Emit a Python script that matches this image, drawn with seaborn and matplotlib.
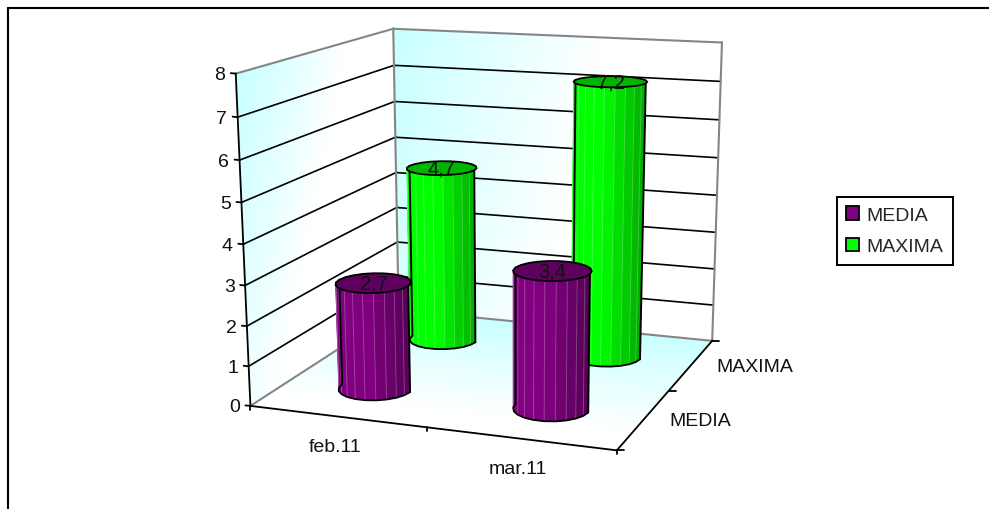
import numpy as np
import pandas as pd
import matplotlib
matplotlib.use("Agg")
import matplotlib.pyplot as plt
from matplotlib.colors import LinearSegmentedColormap, to_rgb
from matplotlib.patches import Patch
import seaborn as sns

# Chart values
months = ["feb.11", "mar.11"]
series_names = ["MEDIA", "MAXIMA"]
media = [2.7, 3.4]
maxima = [4.7, 7.2]
z_ticks = [0, 1, 2, 3, 4, 5, 6, 7, 8]

sns.set_theme(style="white", rc={"font.family": ["Liberation Sans", "DejaVu Sans"]})
palette = sns.color_palette(["#800080", "#00FF00"])
top_colors = ["#5E005E", "#00B400"]

fig, ax = plt.subplots(figsize=(9.89, 5.10), dpi=100)
fig.subplots_adjust(0, 0, 1, 1)

# Perspective camera of the 3D box: (category, series, value) -> canvas position
box_world = np.array([[0, 0, 0], [2, 0, 0], [0, 2, 0], [2, 2, 0],
                      [0, 0, 8], [0, 2, 8], [2, 2, 8]], float)
box_canvas = np.array([[250, 405], [617, 453], [399, 313], [712, 340],
                       [236, 75], [393, 29], [722, 44]], float)
rows = []
for (X, Y, Z), (u, v) in zip(box_world, box_canvas):
    rows.append([X, Y, Z, 1, 0, 0, 0, 0, -u * X, -u * Y, -u * Z, -u])
    rows.append([0, 0, 0, 0, X, Y, Z, 1, -v * X, -v * Y, -v * Z, -v])
camera = np.linalg.svd(np.array(rows))[2][-1].reshape(3, 4)


def project(x, y, z):
    x, y, z = np.broadcast_arrays(np.asarray(x, float), np.asarray(y, float), np.asarray(z, float))
    w = camera @ np.stack([x.ravel(), y.ravel(), z.ravel(), np.ones(x.size)])
    return (w[0] / w[2]).reshape(x.shape), (w[1] / w[2]).reshape(x.shape)


pale = LinearSegmentedColormap.from_list("pale", ["#C8FFFF", "#FFFFFF"])


def surface(x, y, z, shade):
    px, py = project(x, y, z)
    ax.pcolormesh(px, py, np.clip(shade, 0, 1), cmap=pale, vmin=0, vmax=1,
                  shading="gouraud", zorder=1)


a, b = np.meshgrid(np.linspace(0, 1, 30), np.linspace(0, 1, 30))
surface(a * 2, b * 2, 0 * a, (1 - b) * 1.15)                     # floor
surface(0 * a, a * 2, b * 8, a * 1.5 + (1 - b) * 0.75)           # side wall
surface(a * 2, 2 + 0 * a, b * 8, a * 1.5 + (1 - b) * 0.3)        # back wall

# Gridlines on both walls, one polyline per axis value
grid_rows = []
for level in z_ticks[1:-1]:
    for cx, cy in [(0, 0), (0, 2), (2, 2)]:
        px, py = project(cx, cy, level)
        grid_rows.append({"level": level, "px": float(px), "py": float(py)})
sns.lineplot(data=pd.DataFrame(grid_rows), x="px", y="py", units="level", estimator=None,
             sort=False, color="black", linewidth=1.2, legend=False, ax=ax, zorder=2)


def seg(p, q, color="black", lw=1.3, z=3):
    px, py = project(*np.array([p, q]).T)
    ax.plot(px, py, color=color, lw=lw, zorder=z, solid_capstyle="projecting")


# Grey edges of the box
for p, q in [((0, 0, 8), (0, 2, 8)), ((0, 2, 8), (2, 2, 8)), ((0, 2, 0), (0, 2, 8)),
             ((2, 2, 0), (2, 2, 8)), ((0, 0, 0), (0, 2, 0)), ((0, 2, 0), (2, 2, 0))]:
    seg(p, q, color="#858585", lw=1.5)

# Axis lines
seg((0, 0, 0), (0, 0, 8))
seg((0, 0, 0), (2, 0, 0))
seg((2, 0, 0), (2, 2, 0))

# Value axis ticks and labels
for level in z_ticks:
    px, py = project(0, 0, level)
    ax.plot([px - 5, px], [py - 0.5, py], color="black", lw=1.3, zorder=3)
    ax.text(px - 10.5, py + 1, str(level), ha="right", va="center", fontsize=14, color="#111111")

# Category axis ticks and labels
for pos in [0, 1, 2]:
    px, py = project(pos, 0, 0)
    ax.plot([px, px], [py, py + 4], color="black", lw=1.3, zorder=3)
for i, name in enumerate(months):
    px, py = project(i + 0.5, 0, 0)
    ax.text(px - 2, py + 30, name, ha="center", va="center", fontsize=14, color="#111111")

# Series axis ticks and labels
for pos in [0, 1, 2]:
    px, py = project(2, pos, 0)
    ax.plot([px, px + 7], [py, py], color="black", lw=1.3, zorder=3)
for i, name in enumerate(series_names):
    px, py = project(2, i + 0.5, 0)
    ax.text(px + 25, py + 2, name, ha="left", va="center", fontsize=14, color="#111111")


def shaded(color, k):
    return tuple(np.clip(np.array(to_rgb(color)) * k, 0, 1))


def cylinder(cat, ser, value, color, top, order):
    n = 22
    # Angles run from the left side along the near half of the rim
    angle = np.linspace(np.pi, 3 * np.pi, n + 1)
    cx = cat + 0.5 + 0.2 * np.cos(angle)
    cy = ser + 0.5 + 0.21 * np.sin(angle)
    bx, by = project(cx, cy, 0)
    tx, ty = project(cx, cy, value)
    near = list(range(n // 2 + 1))
    span = bx.max() - bx.min()
    # Wall facets, lit from the left and darkening to the right
    for i in near[:-1]:
        f = ((bx[i] + bx[i + 1]) / 2 - bx.min()) / span
        k = 1.0 if f < 0.42 else 1.0 - (f - 0.42) * 0.6
        ax.fill([bx[i], bx[i + 1], tx[i + 1], tx[i]], [by[i], by[i + 1], ty[i + 1], ty[i]],
                color=shaded(color, k), lw=0.4, zorder=order)
    # Pale seams between facets
    for i in near[1:-1]:
        ax.plot([bx[i], tx[i]], [by[i], ty[i]], color="white", alpha=0.22, lw=0.7, zorder=order + 0.1)
    # Silhouette: lower rim and the two sides
    ax.plot(bx[near], by[near], color="black", lw=1.3, zorder=order + 0.2)
    ax.plot([bx[0], tx[0]], [by[0], ty[0]], color="black", lw=1.4, zorder=order + 0.2)
    ax.plot([bx[near[-1]], tx[near[-1]]], [by[near[-1]], ty[near[-1]]], color="black", lw=1.4, zorder=order + 0.2)
    # Cap
    ax.fill(tx, ty, facecolor=top, edgecolor="black", lw=1.3, zorder=order + 0.3)
    px, py = project(cat + 0.5, ser + 0.5, value)
    ax.text(px, py, f"{value:.1f}".replace(".", ","), ha="center", va="center",
            fontsize=14.5, color="#111111", zorder=order + 0.4)


# Back row first so the front row overlaps it
for s, values in reversed(list(enumerate([media, maxima]))):
    for c, value in enumerate(values):
        cylinder(c, s, value, palette[s], top_colors[s], 10 + (1 - s) * 2 + c * 0.5)

# Outer chart border: only the top and left edges fall inside the canvas
ax.plot([8, 8], [510, 9], color="black", lw=1.5, zorder=20)
ax.plot([8, 989], [9, 9], color="black", lw=1.5, zorder=20)

handles = [Patch(facecolor=palette[i], edgecolor="black", lw=1.3, label=series_names[i]) for i in range(2)]
leg = ax.legend(handles=handles, loc="upper left", bbox_to_anchor=(837, 198), bbox_transform=ax.transData,
                frameon=True, fancybox=False, edgecolor="black", framealpha=1, fontsize=14,
                handlelength=0.67, handleheight=0.67, handletextpad=0.36, borderpad=0.48,
                labelspacing=0.72, borderaxespad=0)
leg.get_frame().set_linewidth(1.4)

ax.set_xlim(0, 989)
ax.set_ylim(510, 0)
ax.set_axis_off()
fig.savefig("out.png", dpi=100, facecolor="white")
